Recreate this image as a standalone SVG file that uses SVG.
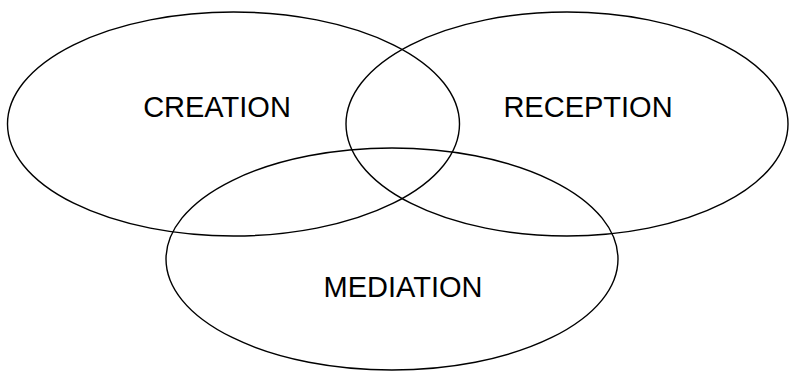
<svg xmlns="http://www.w3.org/2000/svg" width="789" height="371" viewBox="0 0 789 371">
<style>
.c{fill:none;stroke:#000;stroke-width:1.4}
.t{font-family:"Liberation Sans",Arial,sans-serif;font-size:29px;fill:#000;text-anchor:middle}
</style>
<rect width="789" height="371" fill="#fff"/>
<g id="creation"><ellipse class="c" cx="233.5" cy="124" rx="226" ry="112"/><text class="t" x="217" y="116.5">CREATION</text></g>
<g id="reception"><ellipse class="c" cx="567" cy="124" rx="221" ry="112"/><text class="t" x="588" y="116.5">RECEPTION</text></g>
<g id="mediation"><ellipse class="c" cx="392" cy="259" rx="226" ry="111"/><text class="t" x="403" y="296.5">MEDIATION</text></g>
<g id="connectors"/>
</svg>
